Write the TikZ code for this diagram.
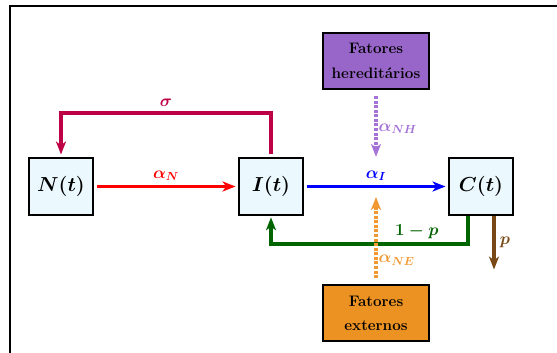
\documentclass[tikz,border=0pt]{standalone}
\usepackage{xcolor}
\usepackage{tikz}
\usetikzlibrary{arrows.meta, positioning}

\definecolor{sigmacol}{RGB}{190,0,70}
\definecolor{heredcol}{RGB}{152,102,200}
\definecolor{heredline}{RGB}{165,115,215}
\definecolor{extcol}{RGB}{236,146,34}
\definecolor{extline}{RGB}{242,152,48}
\definecolor{flowgreen}{RGB}{0,100,0}
\definecolor{flowbrown}{RGB}{120,72,22}

\begin{document}
\begin{tikzpicture}[node distance=6.3cm, on grid, auto,
        comp/.style={draw, line width=2pt, fill=cyan!8, minimum width=1.92cm, minimum height=1.71cm, font=\LARGE\boldmath},
        fator/.style={draw, line width=2pt, minimum width=3.18cm, minimum height=1.68cm, align=center, font=\fontsize{13}{21}\selectfont\bfseries},
        flow/.style={line width=3.3pt, -{Stealth[length=11pt, width=8.5pt, inset=3pt]}},
        influx/.style={flow, line width=2.6pt, dash pattern=on 2.6pt off 1.3pt},
        lbl/.style={font=\Large\boldmath}]
        \useasboundingbox (-1.83,-4.965) rectangle (14.88,5.595);
        \draw[line width=1.8pt] (-1.54,-5.2) |- (15.1,5.424);

        \node[comp] (N) {$N(t)$};
        \node[comp] (I) [right=of N] {$I(t)$};
        \node[comp] (C) [right=of I] {$C(t)$};
        \node[fator, fill=heredcol] (hered) [above right=3.765cm and 3.15cm of I] {Fatores\\hereditários};
        \node[fator, fill=extcol] (ext) [below right=3.8cm and 3.15cm of I] {Fatores\\externos};
        \coordinate (extend) at ([yshift=-0.315cm]hered |- I.east);
        \coordinate (pend) at ([shift={(0.39,-1.6)}]C.south);

        \path
        (N) edge[flow, red, shorten <=2pt, shorten >=2pt] node[lbl, text=red] {$\alpha_N$} (I)
        (I) edge[flow, blue, shorten <=2pt, shorten >=2pt] node[lbl, text=blue] {$\alpha_I$} (C);

        \draw[flow, sigmacol, shorten <=2pt, shorten >=2pt] (I.north) -- ++(0,1.32)
            -| node[pos=0.25, above, lbl] {$\sigma$} (N.north);
        \draw[flow, flowgreen, shorten >=1pt] ([xshift=-0.39cm]C.south) -- ++(0,-0.84)
            -| node[pos=0.13, above, lbl] {$1-p$} (I.south);
        \draw[flow, flowbrown] ([xshift=0.39cm]C.south) -- node[right, lbl] {$p$} (pend);

        \draw[influx, heredline, shorten <=5pt] (hered.south) -- node[pos=0.58, right, lbl, inner sep=1pt] {$\alpha_{NH}$} (hered |- I.north);
        \draw[influx, extline, shorten <=5pt] (ext.north) -- node[pos=0.27, right, lbl, inner sep=1pt] {$\alpha_{NE}$} (extend);

    \end{tikzpicture}
\end{document}
